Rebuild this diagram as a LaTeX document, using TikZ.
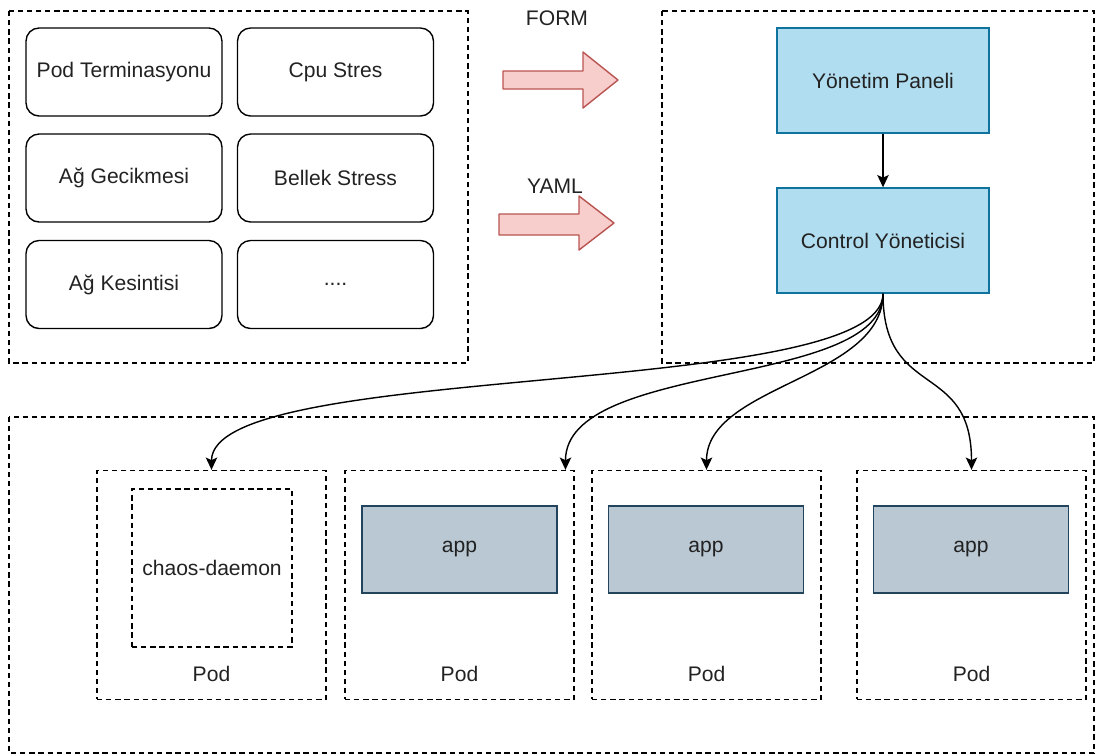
\documentclass[tikz,border=0pt]{standalone}
\usepackage{fontspec}
\setmainfont{Liberation Sans}
\usepackage{xcolor}
\usetikzlibrary{arrows.meta,positioning}
\definecolor{panelfill}{HTML}{B1DDF0}
\definecolor{paneldraw}{HTML}{10739E}
\definecolor{appfill}{HTML}{BAC8D3}
\definecolor{appdraw}{HTML}{23445D}
\definecolor{arrowfill}{HTML}{F8CECC}
\definecolor{arrowdraw}{HTML}{B85450}
\definecolor{textgray}{HTML}{222222}

\tikzset{
  dashbox/.style={draw=black, line width=0.8pt, dash pattern=on 3pt off 2.2pt},
  faultbox/.style={draw=black, line width=0.8pt, rounded corners=0.26cm,
    minimum width=3.92cm, minimum height=1.76cm},
  bluebox/.style={draw=paneldraw, fill=panelfill, line width=0.8pt,
    minimum width=4.24cm, minimum height=2.1cm},
  podbox/.style={dashbox, minimum width=4.58cm, minimum height=4.58cm},
  appbox/.style={draw=appdraw, fill=appfill, line width=0.8pt,
    minimum width=3.9cm, minimum height=1.74cm},
  blockarrow/.style={draw=arrowdraw, fill=arrowfill, line width=0.8pt, line join=round},
  link/.style={line width=0.8pt, -{Stealth[length=7pt, width=6.5pt, inset=1.5pt]}}
}

\begin{document}
\begin{tikzpicture}[x=0.02cm, y=-0.02cm, font=\fontsize{12}{14}\selectfont, text=textgray]
  \useasboundingbox (0,0) rectangle (1105,755);

  % containers
  \draw[dashbox] (9,11) rectangle (468,363);
  \draw[dashbox] (662,11) rectangle (1094,363);
  \draw[dashbox] (9,417) rectangle (1094,753);

  % fault types
  \node[faultbox] (podterm) at (124,72) {Pod Terminasyonu};
  \node[faultbox] (cpu) at (335.5,72) {Cpu Stres};
  \node[faultbox] (gecikme) at (124,178) {Ağ Gecikmesi};
  \node[faultbox] (bellek) at (335.5,178) {Bellek Stress};
  \node[faultbox] (kesinti) at (124,284.5) {Ağ Kesintisi};
  \node[faultbox] (dots) at (335.5,284.5) {....};

  % input arrows
  \draw[blockarrow] (503,71) -- (583,71) -- (583,52) -- (618,80) -- (583,108) -- (583,89) -- (503,89) -- cycle;
  \node (form) at (557,18) {FORM};
  \draw[blockarrow] (499,214) -- (579,214) -- (579,196) -- (614,223) -- (579,250) -- (579,235) -- (499,235) -- cycle;
  \node (yaml) at (555,186) {YAML};

  % chaos mesh
  \node[bluebox] (panel) at (883,80.5) {Yönetim Paneli};
  \node[bluebox] (ctrl) at (883,240.5) {Control Yöneticisi};
  \draw[link] (panel) -- (ctrl);

  % pods
  \node[podbox] (pod1) at (211.5,585) {};
  \node[podbox] (pod2) at (459.5,585) {};
  \node[podbox] (pod3) at (706.5,585) {};
  \node[podbox] (pod4) at (971.5,585) {};
  \node[dashbox, minimum width=3.2cm, minimum height=3.16cm] (daemon) at (212,568) {chaos-daemon};
  \node[appbox] (app2) at (459.5,549.5) {app};
  \node[appbox] (app3) at (706,549.5) {app};
  \node[appbox] (app4) at (971,549.5) {app};
  \foreach \p in {1,2,3,4}
    \node (podlbl\p) at ([yshift=0.52cm]pod\p.south) {Pod};

  % controller -> pods
  \draw[link] (ctrl.south) .. controls +(0,107) and +(0,-110) .. (pod1.north);
  \draw[link] (ctrl.south) .. controls +(0,95) and +(0,-110) .. ([xshift=2.12cm]pod2.north);
  \draw[link] (ctrl.south) .. controls +(0,85) and +(0,-85) .. (pod3.north);
  \draw[link] (ctrl.south) .. controls +(0,107) and +(0,-110) .. (pod4.north);
\end{tikzpicture}
\end{document}
